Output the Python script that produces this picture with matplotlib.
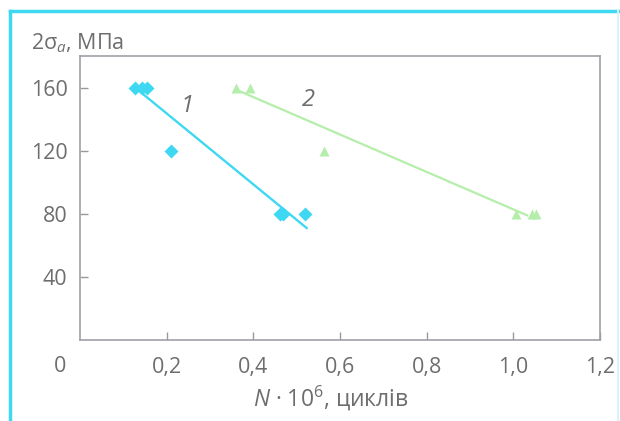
import matplotlib
matplotlib.use("Agg")
import matplotlib.pyplot as plt
from matplotlib.lines import Line2D

plt.rcParams["font.family"] = ["Open Sans", "DejaVu Sans"]
plt.rcParams["mathtext.fontset"] = "custom"
plt.rcParams["mathtext.rm"] = "Open Sans"
plt.rcParams["mathtext.it"] = "Open Sans:italic"

# серія 1 - ромби
n1 = [0.127, 0.142, 0.155, 0.209, 0.462, 0.468, 0.52]
s1 = [160, 160, 160, 120, 80, 80, 80]
lin1_n = [0.127, 0.523]
lin1_s = [160, 71]

# серія 2 - трикутники
n2 = [0.36, 0.393, 0.564, 1.005, 1.043, 1.053]
s2 = [160, 160, 120, 80, 80, 80]
lin2_n = [0.366, 1.032]
lin2_s = [158, 79]

xticks = [0.2, 0.4, 0.6, 0.8, 1.0, 1.2]
yticks = [40, 80, 120, 160]

grey = "#6e6e6e"
cyan = "#3fd8f2"
green = "#b5eeaa"

fig = plt.figure(figsize=(6.2, 4.21), dpi=100)
ax = fig.add_axes([80 / 620, 1 - 340 / 421, 520 / 620, 284 / 421])

ax.plot(lin1_n, lin1_s, color=cyan, lw=1.7, zorder=2)
ax.plot(n1, s1, "D", color=cyan, ms=7, mec="none", zorder=3)
ax.plot(lin2_n, lin2_s, color=green, lw=1.6, zorder=2)
ax.plot(n2, s2, "^", color=green, ms=7.5, mec="none", zorder=3)

ax.text(0.246, 148, "1", fontsize=17, style="italic", color=grey, ha="center", va="center")
ax.text(0.527, 152, "2", fontsize=17, style="italic", color=grey, ha="center", va="center")

ax.set_xlim(0, 1.2)
ax.set_ylim(0, 180)
ax.set_xticks(xticks)
ax.set_xticklabels([f"{v:.1f}".replace(".", ",") for v in xticks])
ax.set_yticks(yticks)
ax.set_yticklabels([str(v) for v in yticks])
ax.tick_params(axis="x", direction="in", length=6, width=1, color="#999999",
               labelsize=15.5, labelcolor=grey, pad=12)
ax.tick_params(axis="y", direction="in", length=6, width=1, color="#999999",
               labelsize=15.5, labelcolor=grey, pad=9)
for sp in ax.spines.values():
    sp.set_color("#a0a0a8")
    sp.set_linewidth(1.2)

# нуль у куті
fig.text(60 / 620, 1 - 366 / 421, "0", fontsize=15.5, color=grey, ha="center", va="center")

fig.text(31 / 620, 1 - 43 / 421, r"2$\mathrm{\sigma}_{a}$, МПа", fontsize=15.5,
         color=grey, ha="left", va="center")
fig.text(331 / 620, 1 - 398 / 421, r"$N$ · 10$^{6}$, циклів", fontsize=16.5,
         color=grey, ha="center", va="center")

# рамка
fig.add_artist(Line2D([10 / 620, 10 / 620], [0, 1 - 11 / 421], color=cyan, lw=2.5,
                      transform=fig.transFigure))
fig.add_artist(Line2D([10 / 620, 618 / 620], [1 - 11 / 421, 1 - 11 / 421], color=cyan,
                      lw=2.5, transform=fig.transFigure))
fig.add_artist(Line2D([618 / 620, 618 / 620], [0, 1 - 11 / 421], color="#d8f4f8",
                      lw=1.5, transform=fig.transFigure))

fig.savefig("out.png", dpi=100)
